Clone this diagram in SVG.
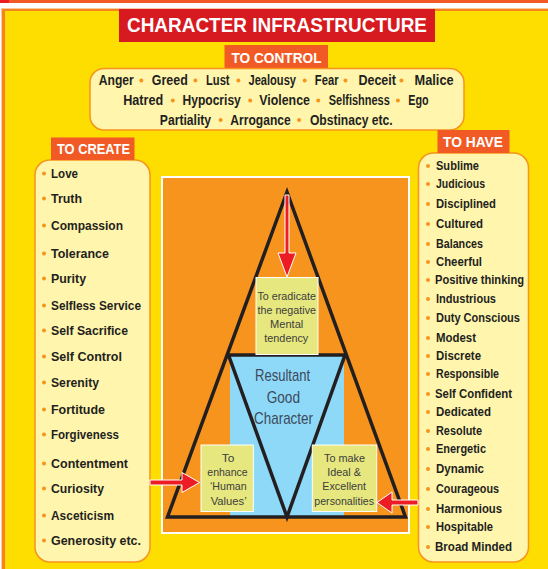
<svg xmlns="http://www.w3.org/2000/svg" width="548" height="569" viewBox="0 0 548 569">
<style>
.hd{font-family:"Liberation Sans",Arial,sans-serif;font-weight:bold;fill:#fff}
.it{font-family:"Liberation Sans",Arial,sans-serif;font-weight:bold;fill:#231F20;font-size:13.5px}
.itr{font-family:"Liberation Sans",Arial,sans-serif;font-weight:bold;fill:#231F20;font-size:12.5px}
.ct{font-family:"Liberation Sans",Arial,sans-serif;font-weight:bold;fill:#231F20;font-size:14px}
.bx{font-family:"Liberation Sans",Arial,sans-serif;fill:#3d3d3d;font-size:11.5px}
.big{font-family:"Liberation Sans",Arial,sans-serif;fill:#3C4A5A;font-size:17px}
.bul{fill:#F7941D}
.lab{fill:#F15A24}
.list{fill:#FFF5AD;stroke:#F7941D;stroke-width:1.5}
.pg{fill:#E6E77E;stroke:#fff;stroke-width:1}
.arr{fill:#ED1C24;stroke:#fff;stroke-width:1}
.tri{fill:none;stroke:#231F20;stroke-width:3.5;stroke-linejoin:miter}
</style>
<!-- background frame -->
<rect x="0" y="0" width="548" height="569" fill="#fff"/>
<rect x="0" y="0" width="548" height="3" fill="#F15A24"/>
<rect x="0" y="0" width="9" height="3" fill="#ED1C24"/>
<rect x="1" y="8" width="547" height="561" fill="#FBC9A0"/>
<rect x="2" y="9" width="546" height="560" fill="#F5841F"/>
<rect x="5" y="11" width="543" height="558" fill="#FEDD00"/>

<g id="title">
<rect x="119" y="9" width="316" height="33" fill="#D71920"/>
<text class="hd" x="127" y="32" font-size="20" textLength="300" lengthAdjust="spacingAndGlyphs">CHARACTER INFRASTRUCTURE</text>
</g>

<g id="to-control">
<rect class="lab" x="224.5" y="45" width="103.5" height="23"/>
<text class="hd" x="231.5" y="62.5" font-size="15" textLength="90" lengthAdjust="spacingAndGlyphs">TO CONTROL</text>
<rect class="list" x="90" y="68.5" width="374" height="61.5" rx="14"/>
<text class="ct" y="85">
<tspan x="98.8" textLength="35" lengthAdjust="spacingAndGlyphs">Anger</tspan>
<tspan x="151.8" textLength="36" lengthAdjust="spacingAndGlyphs">Greed</tspan>
<tspan x="206" textLength="23.6" lengthAdjust="spacingAndGlyphs">Lust</tspan>
<tspan x="248.5" textLength="47.5" lengthAdjust="spacingAndGlyphs">Jealousy</tspan>
<tspan x="314.8" textLength="23.7" lengthAdjust="spacingAndGlyphs">Fear</tspan>
<tspan x="358.4" textLength="37.6" lengthAdjust="spacingAndGlyphs">Deceit</tspan>
<tspan x="414.6" textLength="39" lengthAdjust="spacingAndGlyphs">Malice</tspan>
</text>
<text class="ct" y="105">
<tspan x="123.2" textLength="40" lengthAdjust="spacingAndGlyphs">Hatred</tspan>
<tspan x="182.5" textLength="58.3" lengthAdjust="spacingAndGlyphs">Hypocrisy</tspan>
<tspan x="259.3" textLength="50.6" lengthAdjust="spacingAndGlyphs">Violence</tspan>
<tspan x="328.8" textLength="61" lengthAdjust="spacingAndGlyphs">Selfishness</tspan>
<tspan x="408.3" textLength="20.3" lengthAdjust="spacingAndGlyphs">Ego</tspan>
</text>
<text class="ct" y="124.5">
<tspan x="159.8" textLength="51.3" lengthAdjust="spacingAndGlyphs">Partiality</tspan>
<tspan x="230.3" textLength="60.4" lengthAdjust="spacingAndGlyphs">Arrogance</tspan>
<tspan x="309.9" textLength="82.7" lengthAdjust="spacingAndGlyphs">Obstinacy etc.</tspan>
</text>
<g class="bul">
<circle cx="141.3" cy="80.5" r="2"/><circle cx="195.4" cy="80.5" r="2"/><circle cx="238.4" cy="80.5" r="2"/><circle cx="304.7" cy="80.5" r="2"/><circle cx="345.5" cy="80.5" r="2"/><circle cx="401.4" cy="80.5" r="2"/>
<circle cx="172.8" cy="100.5" r="2"/><circle cx="250.2" cy="100.5" r="2"/><circle cx="318.3" cy="100.5" r="2"/><circle cx="397.9" cy="100.5" r="2"/>
<circle cx="220.6" cy="120" r="2"/><circle cx="299.1" cy="120" r="2"/>
</g>
</g>

<g id="to-create">
<rect class="list" x="35" y="160" width="115" height="402" rx="15"/>
<rect class="lab" x="51" y="137.5" width="83.5" height="22.5"/>
<text class="hd" x="57" y="154" font-size="14" textLength="73" lengthAdjust="spacingAndGlyphs">TO CREATE</text>
<g class="it">
<text x="51" y="178" textLength="27" lengthAdjust="spacingAndGlyphs">Love</text>
<text x="51" y="203" textLength="31" lengthAdjust="spacingAndGlyphs">Truth</text>
<text x="51" y="230" textLength="72" lengthAdjust="spacingAndGlyphs">Compassion</text>
<text x="51" y="258" textLength="58" lengthAdjust="spacingAndGlyphs">Tolerance</text>
<text x="51" y="283" textLength="35" lengthAdjust="spacingAndGlyphs">Purity</text>
<text x="51" y="310" textLength="90" lengthAdjust="spacingAndGlyphs">Selfless Service</text>
<text x="51" y="335" textLength="77" lengthAdjust="spacingAndGlyphs">Self Sacrifice</text>
<text x="51" y="361" textLength="71" lengthAdjust="spacingAndGlyphs">Self Control</text>
<text x="51" y="387" textLength="48" lengthAdjust="spacingAndGlyphs">Serenity</text>
<text x="51" y="414" textLength="54" lengthAdjust="spacingAndGlyphs">Fortitude</text>
<text x="51" y="439" textLength="68" lengthAdjust="spacingAndGlyphs">Forgiveness</text>
<text x="51" y="468" textLength="77" lengthAdjust="spacingAndGlyphs">Contentment</text>
<text x="51" y="493" textLength="53" lengthAdjust="spacingAndGlyphs">Curiosity</text>
<text x="51" y="520" textLength="63" lengthAdjust="spacingAndGlyphs">Asceticism</text>
<text x="51" y="545" textLength="90" lengthAdjust="spacingAndGlyphs">Generosity etc.</text>
</g>
<g class="bul">
<circle cx="44" cy="173.5" r="2"/><circle cx="44" cy="198.5" r="2"/><circle cx="44" cy="225.5" r="2"/><circle cx="44" cy="253.5" r="2"/><circle cx="44" cy="278.5" r="2"/><circle cx="44" cy="305.5" r="2"/><circle cx="44" cy="330.5" r="2"/><circle cx="44" cy="356.5" r="2"/><circle cx="44" cy="382.5" r="2"/><circle cx="44" cy="409.5" r="2"/><circle cx="44" cy="434.5" r="2"/><circle cx="44" cy="463.5" r="2"/><circle cx="44" cy="488.5" r="2"/><circle cx="44" cy="515.5" r="2"/><circle cx="44" cy="540.5" r="2"/>
</g>
</g>

<g id="to-have">
<rect class="list" x="418.5" y="153" width="110" height="409" rx="15"/>
<rect class="lab" x="437.5" y="130" width="72" height="23"/>
<text class="hd" x="443" y="147" font-size="14" textLength="60" lengthAdjust="spacingAndGlyphs">TO HAVE</text>
<g class="itr">
<text x="436" y="170" textLength="43" lengthAdjust="spacingAndGlyphs">Sublime</text>
<text x="436" y="188" textLength="49" lengthAdjust="spacingAndGlyphs">Judicious</text>
<text x="436" y="208" textLength="60" lengthAdjust="spacingAndGlyphs">Disciplined</text>
<text x="436" y="228" textLength="47" lengthAdjust="spacingAndGlyphs">Cultured</text>
<text x="436" y="248" textLength="47" lengthAdjust="spacingAndGlyphs">Balances</text>
<text x="436" y="266" textLength="46" lengthAdjust="spacingAndGlyphs">Cheerful</text>
<text x="435" y="284" textLength="89" lengthAdjust="spacingAndGlyphs">Positive thinking</text>
<text x="436" y="303" textLength="60" lengthAdjust="spacingAndGlyphs">Industrious</text>
<text x="436" y="322" textLength="84" lengthAdjust="spacingAndGlyphs">Duty Conscious</text>
<text x="436" y="342" textLength="40" lengthAdjust="spacingAndGlyphs">Modest</text>
<text x="436" y="360" textLength="45" lengthAdjust="spacingAndGlyphs">Discrete</text>
<text x="436" y="378" textLength="63" lengthAdjust="spacingAndGlyphs">Responsible</text>
<text x="435" y="398" textLength="77" lengthAdjust="spacingAndGlyphs">Self Confident</text>
<text x="436" y="416" textLength="55" lengthAdjust="spacingAndGlyphs">Dedicated</text>
<text x="436" y="435" textLength="46" lengthAdjust="spacingAndGlyphs">Resolute</text>
<text x="436" y="453" textLength="50" lengthAdjust="spacingAndGlyphs">Energetic</text>
<text x="436" y="473" textLength="48" lengthAdjust="spacingAndGlyphs">Dynamic</text>
<text x="436" y="493" textLength="63" lengthAdjust="spacingAndGlyphs">Courageous</text>
<text x="436" y="513" textLength="66" lengthAdjust="spacingAndGlyphs">Harmonious</text>
<text x="436" y="531" textLength="57" lengthAdjust="spacingAndGlyphs">Hospitable</text>
<text x="435" y="551" textLength="77" lengthAdjust="spacingAndGlyphs">Broad Minded</text>
</g>
<g class="bul">
<circle cx="428" cy="166" r="2"/><circle cx="428" cy="184" r="2"/><circle cx="428" cy="204" r="2"/><circle cx="428" cy="224" r="2"/><circle cx="428" cy="244" r="2"/><circle cx="428" cy="262" r="2"/><circle cx="428" cy="280" r="2"/><circle cx="428" cy="299" r="2"/><circle cx="428" cy="318" r="2"/><circle cx="428" cy="338" r="2"/><circle cx="428" cy="356" r="2"/><circle cx="428" cy="374" r="2"/><circle cx="428" cy="394" r="2"/><circle cx="428" cy="412" r="2"/><circle cx="428" cy="431" r="2"/><circle cx="428" cy="449" r="2"/><circle cx="428" cy="469" r="2"/><circle cx="428" cy="489" r="2"/><circle cx="428" cy="509" r="2"/><circle cx="428" cy="527" r="2"/><circle cx="428" cy="547" r="2"/>
</g>
</g>

<g id="pyramid">
<rect x="162" y="177" width="247" height="356" fill="#F7941D" stroke="#fff" stroke-width="2"/>
<rect x="230" y="355" width="114" height="161" fill="#8ED8F8"/>
<polygon class="tri" points="287,192 405.5,517 167.5,517"/>
<polygon class="tri" points="228.5,355 345,355 287,517"/>
</g>

<g id="resultant">
<text class="big" x="255" y="380.5" textLength="55" lengthAdjust="spacingAndGlyphs">Resultant</text>
<text class="big" x="266.7" y="403" textLength="33.3" lengthAdjust="spacingAndGlyphs">Good</text>
<text class="big" x="254" y="424" textLength="59" lengthAdjust="spacingAndGlyphs">Character</text>
</g>

<g id="eradicate">
<rect class="pg" x="256" y="277.5" width="62" height="77"/>
<text class="bx" x="257.5" y="300" textLength="58.5" lengthAdjust="spacingAndGlyphs">To eradicate</text>
<text class="bx" x="257.5" y="314" textLength="58.5" lengthAdjust="spacingAndGlyphs">the negative</text>
<text class="bx" x="270" y="328" textLength="33.3" lengthAdjust="spacingAndGlyphs">Mental</text>
<text class="bx" x="264.3" y="342" textLength="44" lengthAdjust="spacingAndGlyphs">tendency</text>
</g>

<g id="enhance">
<rect class="pg" x="201" y="445" width="52.3" height="66.5"/>
<text class="bx" x="221.7" y="461.7" textLength="12.6" lengthAdjust="spacingAndGlyphs">To</text>
<text class="bx" x="207.3" y="476" textLength="40.4" lengthAdjust="spacingAndGlyphs">enhance</text>
<text class="bx" x="210" y="490" textLength="36.7" lengthAdjust="spacingAndGlyphs">‘Human</text>
<text class="bx" x="210.7" y="505" textLength="36" lengthAdjust="spacingAndGlyphs">Values’</text>
</g>

<g id="make-ideal">
<rect class="pg" x="312.3" y="445" width="64.4" height="66.5"/>
<text class="bx" x="324" y="461.7" textLength="41" lengthAdjust="spacingAndGlyphs">To make</text>
<text class="bx" x="327.3" y="476" textLength="33.7" lengthAdjust="spacingAndGlyphs">Ideal &amp;</text>
<text class="bx" x="322.3" y="490" textLength="43.7" lengthAdjust="spacingAndGlyphs">Excellent</text>
<text class="bx" x="314.3" y="505" textLength="59.7" lengthAdjust="spacingAndGlyphs">personalities</text>
</g>

<g id="connectors">
<polygon class="arr" points="285,195 289,195 289,253 296,253 287,277 278,253 285,253"/>
<polygon class="arr" points="150,480 182,480 182,472.5 199.5,482.5 182,492.5 182,485 150,485"/>
<polygon class="arr" points="418,500 392,500 392,492 377,502.5 392,513 392,505 418,505"/>
</g>
</svg>
